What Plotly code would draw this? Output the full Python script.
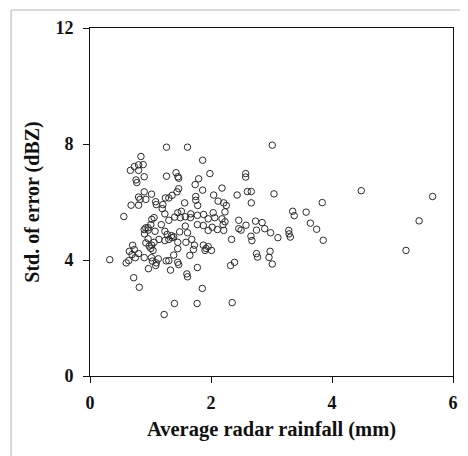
import plotly.graph_objects as go

rainfall = [1.265, 1.612, 3.013, 0.842, 1.862, 0.668, 0.733, 0.803, 0.879, 0.803,
            0.896, 1.265, 1.422, 1.454, 1.466, 1.796, 1.982, 2.573, 2.573, 0.761,
            0.774, 1.738, 2.182, 1.862, 1.466, 1.438, 1.357, 1.303, 1.246, 0.896,
            1.018, 0.803, 0.826, 0.923, 1.748, 2.044, 2.432, 2.601, 2.666, 3.041,
            4.484, 5.663, 0.679, 0.803, 1.086, 1.096, 1.205, 1.194, 1.564, 1.450,
            1.510, 1.748, 1.780, 2.117, 2.210, 2.252, 2.231, 2.666, 0.559, 1.059,
            1.021, 1.238, 1.303, 1.401, 1.493, 1.575, 1.666, 1.661, 1.775, 1.878,
            1.954, 2.036, 2.063, 2.182, 2.231, 2.199, 1.775, 1.873, 1.178, 1.005,
            0.961, 0.923, 2.459, 2.578, 2.736, 2.845, 3.839, 3.350, 3.376, 3.572,
            3.643, 5.440, 0.896, 0.961, 0.901, 1.075, 1.238, 1.275, 1.347, 1.384,
            1.357, 1.482, 1.575, 1.612, 1.954, 2.020, 2.106, 2.210, 2.459, 2.497,
            2.752, 2.888, 2.985, 3.106, 3.285, 3.290, 3.311, 3.746, 2.660, 2.676,
            2.340, 3.855, 0.961, 1.059, 1.140, 1.238, 1.303, 0.923, 0.977, 1.021,
            1.005, 1.042, 1.450, 1.450, 1.384, 1.585, 1.682, 1.726, 1.710, 1.650,
            1.873, 1.917, 1.954, 1.901, 2.008, 2.752, 2.769, 2.976, 2.959, 3.013,
            5.223, 0.705, 0.733, 0.651, 0.695, 0.803, 0.749, 0.896, 1.015, 1.031,
            1.129, 1.096, 1.259, 1.303, 1.450, 1.466, 0.598, 0.640, 0.326, 0.966,
            1.086, 1.331, 1.775, 2.389, 2.324, 0.722, 0.814, 1.601, 1.612, 1.857,
            1.396, 1.770, 2.350, 1.226]

std_error = [7.89, 7.89, 7.96, 7.57, 7.44, 7.09, 7.22, 7.28, 7.29, 7.09,
             6.87, 6.89, 7.01, 6.87, 6.82, 6.80, 6.98, 6.98, 6.86, 6.76,
             6.67, 6.60, 6.48, 6.41, 6.46, 6.35, 6.23, 6.14, 6.14, 6.35,
             6.27, 6.17, 6.09, 6.09, 6.19, 6.24, 6.24, 6.36, 6.36, 6.28,
             6.39, 6.19, 5.89, 5.89, 6.01, 5.91, 5.91, 5.77, 5.97, 5.63,
             5.68, 6.06, 5.88, 6.03, 5.97, 5.88, 5.66, 5.97, 5.50, 5.46,
             5.40, 5.59, 5.37, 5.48, 5.46, 5.49, 5.59, 5.46, 5.54, 5.57,
             5.42, 5.63, 5.46, 5.42, 5.32, 5.22, 5.22, 5.19, 5.22, 5.22,
             5.11, 5.11, 5.37, 5.20, 5.34, 5.29, 5.98, 5.68, 5.53, 5.65,
             5.27, 5.35, 5.05, 5.03, 4.90, 4.99, 4.99, 4.88, 4.84, 4.80,
             4.77, 4.97, 5.17, 4.94, 5.02, 5.13, 5.05, 5.02, 5.08, 5.03,
             5.03, 5.08, 4.94, 4.77, 5.02, 4.90, 4.79, 5.06, 4.82, 4.67,
             4.71, 4.68, 4.73, 4.61, 4.71, 4.67, 4.71, 4.59, 4.48, 4.51,
             4.40, 4.33, 4.61, 4.39, 4.17, 4.61, 4.71, 4.51, 4.36, 4.16,
             4.51, 4.40, 4.46, 4.33, 4.33, 4.22, 4.10, 4.30, 4.09, 3.86,
             4.33, 4.51, 4.36, 4.30, 4.19, 4.22, 4.08, 4.08, 4.08, 3.96,
             4.04, 3.90, 3.97, 3.98, 3.92, 3.84, 3.90, 3.98, 4.01, 3.70,
             3.81, 3.65, 3.74, 3.92, 3.81, 3.39, 3.06, 3.52, 3.42, 3.02,
             2.50, 2.50, 2.53, 2.12]

x_ticks = [0, 2, 4, 6]
y_ticks = [0, 4, 8, 12]
x_title = "Average radar rainfall (mm)"
y_title = "Std. of error (dBZ)"

FONT = "Liberation Serif, Times New Roman, serif"

fig = go.Figure(go.Scatter(
    x=rainfall, y=std_error, mode="markers",
    marker=dict(symbol="circle-open", size=6.5, color="#2a2a2a",
                line=dict(width=1, color="#2a2a2a")),
    showlegend=False,
))

axis_common = dict(
    showgrid=False, zeroline=False, showline=True, linecolor="#111111",
    linewidth=1, mirror=True, ticks="outside", ticklen=6, tickcolor="#111111",
    tickfont=dict(family=FONT, size=18, color="#111111", weight="bold"),
)

# the page body has an 8px default margin, so the figure is sized to fit
fig.update_layout(
    width=460, height=448,
    margin=dict(l=82, r=10, t=20, b=80),
    paper_bgcolor="white", plot_bgcolor="white",
    xaxis=dict(range=[0, 6], tickvals=x_ticks, ticklabelstandoff=4,
               title=dict(text=x_title, standoff=10,
                          font=dict(family=FONT, size=20.5, color="#111111", weight="bold")),
               **axis_common),
    yaxis=dict(range=[0, 12], tickvals=y_ticks, ticklabelstandoff=6,
               title=dict(text=y_title, standoff=10,
                          font=dict(family=FONT, size=20, color="#111111", weight="bold")),
               **axis_common),
    shapes=[
        dict(type="line", xref="paper", yref="paper", x0=-0.2174, x1=1.2,
             y0=1.0517, y1=1.0517, line=dict(color="#cccccc", width=1.5)),
        dict(type="line", xref="paper", yref="paper", x0=-0.2174, x1=-0.2174,
             y0=1.0517, y1=-0.4, line=dict(color="#cccccc", width=1.5)),
    ],
)

fig.write_html("out.html")
